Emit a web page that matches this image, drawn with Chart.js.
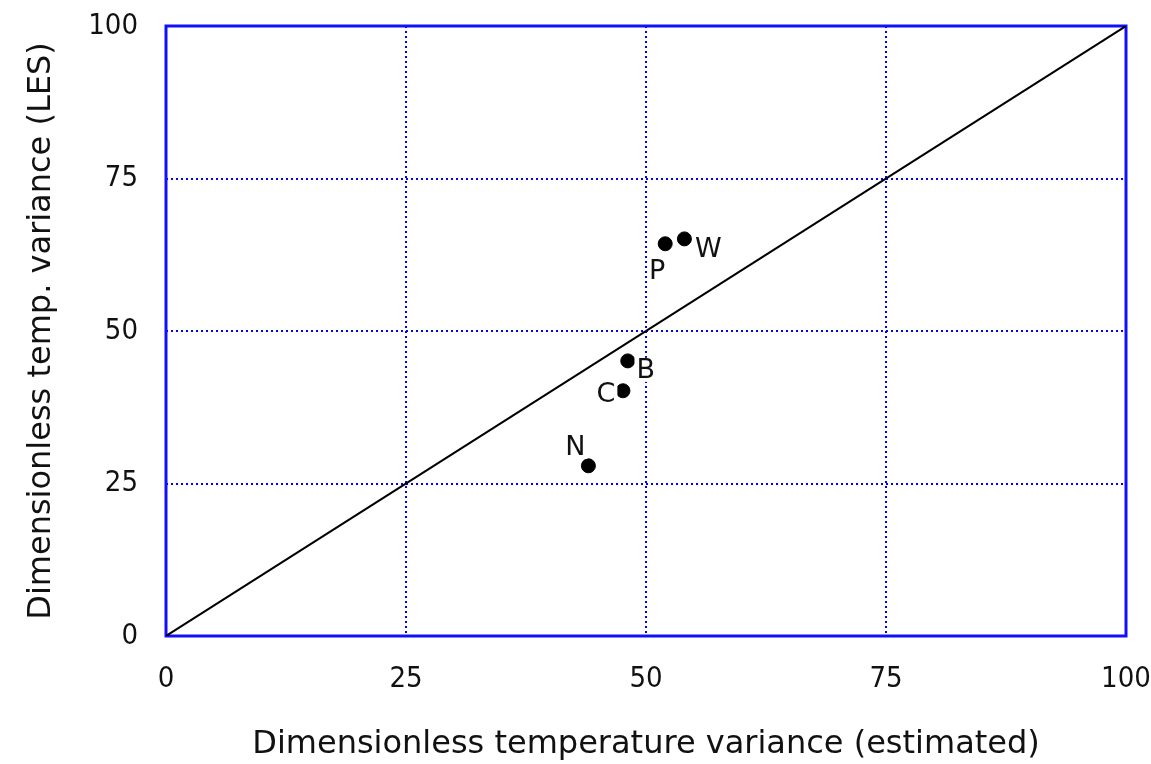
<!DOCTYPE html>
<html>
<head>
<meta charset="utf-8">
<script src="https://cdn.jsdelivr.net/npm/chart.js@4"></script>
<style>
  html, body { margin: 0; padding: 0; background: #fff; }
  #wrap { width: 1151px; height: 764px; }
</style>
</head>
<body>
<div id="wrap"><canvas id="chartVariance"></canvas></div>
<script>
// data
const caseLabels = ['P', 'W', 'B', 'C', 'N'];
const estimatedVar = [52.0, 54.0, 48.1, 47.6, 44.0];
const lesVar = [64.3, 65.1, 45.1, 40.2, 27.9];
const diagX = [0, 100];
const diagY = [0, 100];
const tickValues = [0, 25, 50, 75, 100];

const BLUE = '#1010ff';
const tickFont = { family: "'Liberation Sans Narrow', 'DejaVu Sans Condensed', sans-serif", size: 29 };
const titleFont = { family: "'DejaVu Sans', sans-serif", size: 32 };

// where each label sits relative to its point (px)
const labelOffsets = { P: [-8, 27], W: [24, 10], B: [18, 9], C: [-17, 3], N: [-13, -19] };

const frameAndLabels = {
    id: 'frameAndLabels',
    beforeDatasetsDraw(chart) {
        const { ctx, chartArea: a } = chart;
        ctx.save();
        ctx.strokeStyle = BLUE;
        ctx.lineWidth = 3;
        ctx.strokeRect(a.left, a.top, a.right - a.left, a.bottom - a.top);
        ctx.restore();
    },
    afterDatasetsDraw(chart) {
        const { ctx } = chart;
        const meta = chart.getDatasetMeta(1);
        ctx.save();
        ctx.font = "27px 'DejaVu Sans', sans-serif";
        ctx.textAlign = 'center';
        ctx.textBaseline = 'middle';
        meta.data.forEach((pt, i) => {
            const lab = caseLabels[i];
            const off = labelOffsets[lab];
            const x = pt.x + off[0], y = pt.y + off[1];
            const w = ctx.measureText(lab).width;
            ctx.fillStyle = '#fff';
            ctx.fillRect(x - w / 2 - 2, y - 12, w + 4, 24);
            ctx.fillStyle = '#111';
            ctx.fillText(lab, x, y + 1);
        });
        ctx.restore();
    }
};

const gridColor = (c) => (c.tick && (c.tick.value === 0 || c.tick.value === 100)) ? 'rgba(0,0,0,0)' : '#0000ff';

new Chart(document.getElementById('chartVariance').getContext('2d'), {
    type: 'scatter',
    data: {
        datasets: [{
            type: 'line',
            label: '1:1',
            data: diagX.map((x, i) => ({ x: x, y: diagY[i] })),
            borderColor: '#000',
            borderWidth: 2,
            pointRadius: 0,
            fill: false
        }, {
            label: 'cases',
            data: estimatedVar.map((x, i) => ({ x: x, y: lesVar[i] })),
            backgroundColor: '#000',
            borderColor: '#000',
            pointRadius: 7
        }]
    },
    options: {
        responsive: true,
        maintainAspectRatio: false,
        animation: false,
        layout: { padding: { left: 0, top: 26, right: 25, bottom: 0 } },
        plugins: {
            legend: { display: false },
            tooltip: { enabled: false }
        },
        scales: {
            x: {
                type: 'linear',
                min: 0,
                max: 100,
                afterBuildTicks: (s) => { s.ticks = tickValues.map(v => ({ value: v })); },
                afterFit: (s) => { s.height = 128; s.paddingLeft = 0; s.paddingRight = 0; },
                grid: { color: gridColor, lineWidth: 2, drawTicks: false },
                border: { display: false, dash: [2, 3] },
                ticks: { font: tickFont, color: '#111', padding: 26, maxRotation: 0 },
                title: {
                    display: true,
                    text: 'Dimensionless temperature variance (estimated)',
                    font: titleFont,
                    color: '#111',
                    padding: { top: 3, bottom: 0 }
                }
            },
            y: {
                type: 'linear',
                min: 0,
                max: 100,
                afterBuildTicks: (s) => { s.ticks = tickValues.map(v => ({ value: v })); },
                afterFit: (s) => { s.width = 166; s.paddingTop = 0; s.paddingBottom = 0; },
                grid: { color: gridColor, lineWidth: 2, drawTicks: false },
                border: { display: false, dash: [2, 3] },
                ticks: { font: tickFont, color: '#111', padding: 28 },
                title: {
                    display: true,
                    text: 'Dimensionless temp. variance (LES)',
                    font: titleFont,
                    color: '#111',
                    padding: { top: 22, bottom: 0 }
                }
            }
        }
    },
    plugins: [frameAndLabels]
});
</script>
</body>
</html>
